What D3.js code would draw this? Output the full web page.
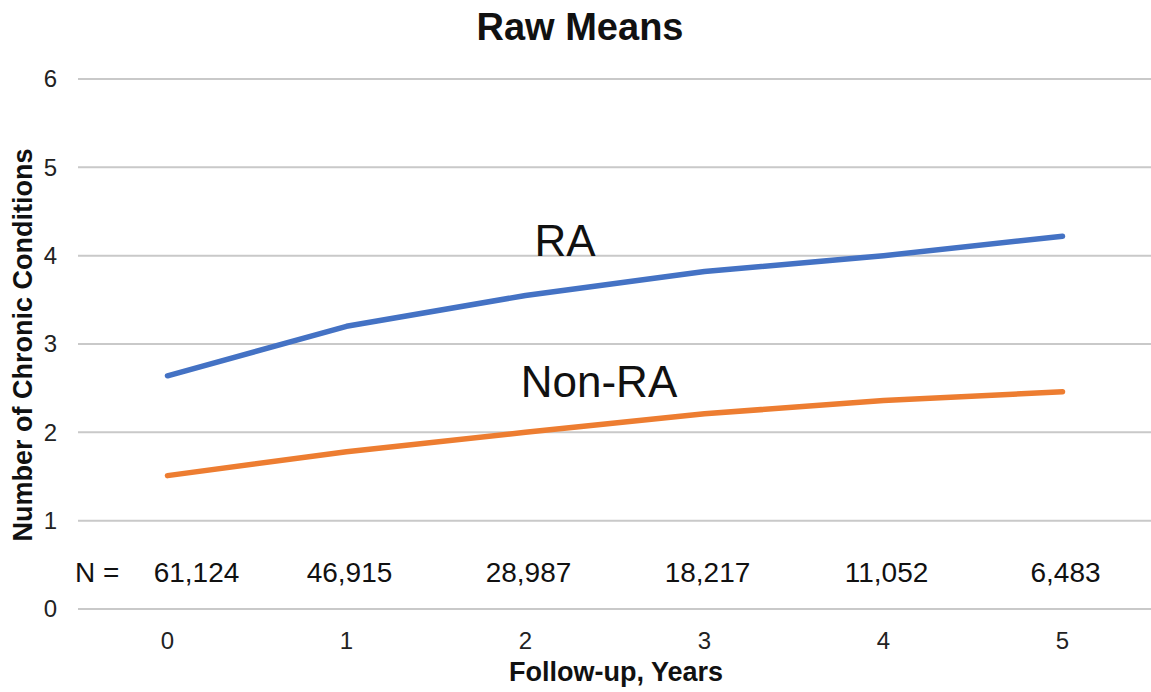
<!DOCTYPE html>
<html>
<head>
<meta charset="utf-8">
<script src="https://cdn.jsdelivr.net/npm/d3@7"></script>
<style>
  body { margin: 0; background: #fff; }
  svg { font-family: "Liberation Sans", Arial, sans-serif; }
</style>
</head>
<body>
<div id="chart"></div>
<script>
// Chart data.
const years = ['0', '1', '2', '3', '4', '5'];
const raMeans = [2.64, 3.2, 3.55, 3.82, 4.0, 4.22];
const nonRaMeans = [1.51, 1.78, 2.0, 2.21, 2.36, 2.46];
const sampleSizes = ['61,124', '46,915', '28,987', '18,217', '11,052', '6,483'];
const yTicks = [0, 1, 2, 3, 4, 5, 6];

const width = 1151;
const height = 692;
const margin = {top: 79, right: 0, bottom: 84, left: 78};

const svg = d3.select('#chart')
    .append('svg')
        .attr('width', width)
        .attr('height', height);

const x = d3.scaleBand().domain(years).range([margin.left, width - margin.right + 1]);
const y = d3.scaleLinear().domain([0, 6]).range([height - margin.bottom + 1, margin.top]);
const cx = d => x(d) + x.bandwidth() / 2;

// Gridlines.
svg.append('g')
    .selectAll('line')
    .data(yTicks)
    .join('line')
        .attr('x1', margin.left)
        .attr('x2', width)
        .attr('y1', d => y(d))
        .attr('y2', d => y(d))
        .attr('stroke', '#c9c9c9')
        .attr('stroke-width', 2);

// Y tick labels.
svg.append('g')
    .selectAll('text')
    .data(yTicks)
    .join('text')
        .attr('x', 57)
        .attr('y', d => y(d))
        .attr('dy', '0.35em')
        .attr('text-anchor', 'end')
        .style('font-size', '24px')
        .attr('fill', '#222')
        .text(d => d);

// X tick labels.
svg.append('g')
    .selectAll('text')
    .data(years)
    .join('text')
        .attr('x', d => cx(d))
        .attr('y', 649)
        .attr('text-anchor', 'middle')
        .style('font-size', '24px')
        .attr('fill', '#222')
        .text(d => d);

// Sample sizes row.
svg.append('text')
    .attr('x', 75)
    .attr('y', 582)
    .style('font-size', '28px')
    .attr('fill', '#111')
    .text('N =');
svg.append('g')
    .selectAll('text')
    .data(sampleSizes)
    .join('text')
        .attr('x', (d, i) => cx(years[i]) + (i === 0 ? 29 : 3))
        .attr('y', 582)
        .attr('text-anchor', 'middle')
        .style('font-size', '28px')
        .attr('fill', '#111')
        .text(d => d);

// Lines.
const line = d3.line()
    .x((d, i) => cx(years[i]))
    .y(d => y(d));

svg.append('path')
    .datum(nonRaMeans)
    .attr('d', line)
    .attr('fill', 'none')
    .attr('stroke', '#ED7D31')
    .attr('stroke-width', 5.5)
    .attr('stroke-linejoin', 'round')
    .attr('stroke-linecap', 'round');

svg.append('path')
    .datum(raMeans)
    .attr('d', line)
    .attr('fill', 'none')
    .attr('stroke', '#4472C4')
    .attr('stroke-width', 5.5)
    .attr('stroke-linejoin', 'round')
    .attr('stroke-linecap', 'round');

// Series labels.
svg.append('text')
    .attr('x', 565)
    .attr('y', 256)
    .attr('text-anchor', 'middle')
    .style('font-size', '44px')
    .attr('fill', '#111')
    .text('RA');
svg.append('text')
    .attr('x', 599)
    .attr('y', 397)
    .attr('text-anchor', 'middle')
    .style('font-size', '44px')
    .attr('fill', '#111')
    .text('Non-RA');

// Title.
svg.append('text')
    .attr('x', 580)
    .attr('y', 40)
    .attr('text-anchor', 'middle')
    .style('font-size', '38px')
    .style('font-weight', 'bold')
    .attr('fill', '#111')
    .text('Raw Means');

// Axis titles.
svg.append('text')
    .attr('x', 616)
    .attr('y', 681)
    .attr('text-anchor', 'middle')
    .style('font-size', '27px')
    .style('font-weight', 'bold')
    .attr('fill', '#111')
    .text('Follow-up, Years');

svg.append('text')
    .attr('transform', 'translate(32,345)rotate(-90)')
    .attr('text-anchor', 'middle')
    .style('font-size', '27px')
    .style('font-weight', 'bold')
    .attr('fill', '#111')
    .text('Number of Chronic Conditions');
</script>
</body>
</html>
